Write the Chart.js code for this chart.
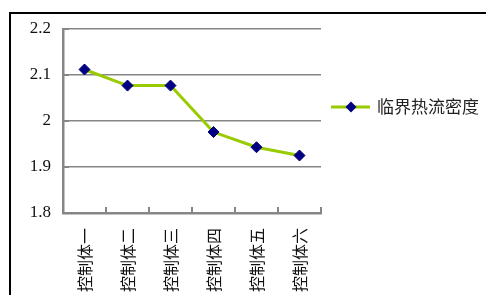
<!DOCTYPE html>
<html>
<head>
<meta charset="utf-8">
<script src="https://cdn.jsdelivr.net/npm/chart.js@4"></script>
<style>
  html, body { margin: 0; padding: 0; background: #fff; overflow: hidden; }
  #wrap { position: relative; width: 486px; height: 295px; }
  #frame { position: absolute; left: 9px; top: 12px; width: 520px; height: 320px; border-left: 2px solid #000; border-top: 2px solid #000; }
  canvas { position: absolute; left: 0; top: 0; }
</style>
</head>
<body>
<div id="wrap">
  <div id="frame"></div>
  <canvas id="chart" width="486" height="295"></canvas>
</div>
<script>
const categories = ['控制体一', '控制体二', '控制体三', '控制体四', '控制体五', '控制体六'];
const heatFlux = [2.112, 2.077, 2.077, 1.976, 1.943, 1.925];
const seriesLabel = '临界热流密度';
const yTickLabels = { 1.8: '1.8', 1.9: '1.9', 2.0: '2', 2.1: '2.1', 2.2: '2.2' };

const lineColor = '#99cc00';
const markColor = '#000080';
const axisColor = '#868686';

// inward tick marks + legend drawn by hand
const extras = {
  id: 'extras',
  afterDraw(chart) {
    const ctx = chart.ctx;
    const x = chart.scales.x, y = chart.scales.y;
    const area = chart.chartArea;
    ctx.save();
    ctx.strokeStyle = axisColor;
    ctx.lineWidth = 2;
    for (let i = 0; i < categories.length; i++) {
      const px = Math.round(x.getPixelForValue(i + 0.5));
      ctx.beginPath();
      ctx.moveTo(px, area.bottom);
      ctx.lineTo(px, area.bottom - 6);
      ctx.stroke();
    }
    for (let v = 1.9; v <= 2.25; v += 0.1) {
      const py = Math.round(y.getPixelForValue(v));
      ctx.beginPath();
      ctx.moveTo(area.left, py);
      ctx.lineTo(area.left + 6, py);
      ctx.stroke();
    }
    // legend
    const ly = 107;
    ctx.strokeStyle = lineColor;
    ctx.lineWidth = 3;
    ctx.beginPath();
    ctx.moveTo(331, ly);
    ctx.lineTo(370, ly);
    ctx.stroke();
    ctx.fillStyle = markColor;
    ctx.beginPath();
    ctx.moveTo(351, ly - 5.5);
    ctx.lineTo(356.5, ly);
    ctx.lineTo(351, ly + 5.5);
    ctx.lineTo(345.5, ly);
    ctx.closePath();
    ctx.fill();
    ctx.fillStyle = '#222';
    ctx.font = '17px "Noto Sans CJK SC"';
    ctx.textBaseline = 'middle';
    ctx.fillText(seriesLabel, 377, ly);
    ctx.restore();
  }
};

new Chart(document.getElementById('chart'), {
  type: 'line',
  data: {
    labels: categories,
    datasets: [{
      label: seriesLabel,
      data: heatFlux,
      borderColor: lineColor,
      borderWidth: 3,
      tension: 0,
      pointStyle: 'rectRot',
      pointRadius: 5.5,
      pointBackgroundColor: markColor,
      pointBorderColor: markColor,
      pointBorderWidth: 1
    }]
  },
  options: {
    responsive: false,
    animation: false,
    layout: { padding: { top: 29, right: 165, left: 0, bottom: 0 } },
    plugins: { legend: { display: false }, tooltip: { enabled: false } },
    scales: {
      x: {
        offset: true,
        grid: { display: false, drawTicks: false },
        border: { color: axisColor, width: 2.5 },
        ticks: {
          minRotation: 90,
          maxRotation: 90,
          padding: 15,
          color: '#111',
          font: { family: 'Noto Sans CJK SC', size: 16 }
        },
        afterFit(scale) { scale.height = 82; }
      },
      y: {
        min: 1.8,
        max: 2.2,
        grid: { color: axisColor, lineWidth: 1.5, drawTicks: false },
        border: { color: axisColor, width: 2.5 },
        ticks: {
          stepSize: 0.1,
          padding: 12,
          color: '#111',
          font: { family: "'Times New Roman', 'Liberation Serif', serif", size: 17 },
          callback: v => yTickLabels[Math.round(v * 10) / 10]
        },
        afterFit(scale) { scale.width = 63; }
      }
    }
  },
  plugins: [extras]
});
</script>
</body>
</html>
